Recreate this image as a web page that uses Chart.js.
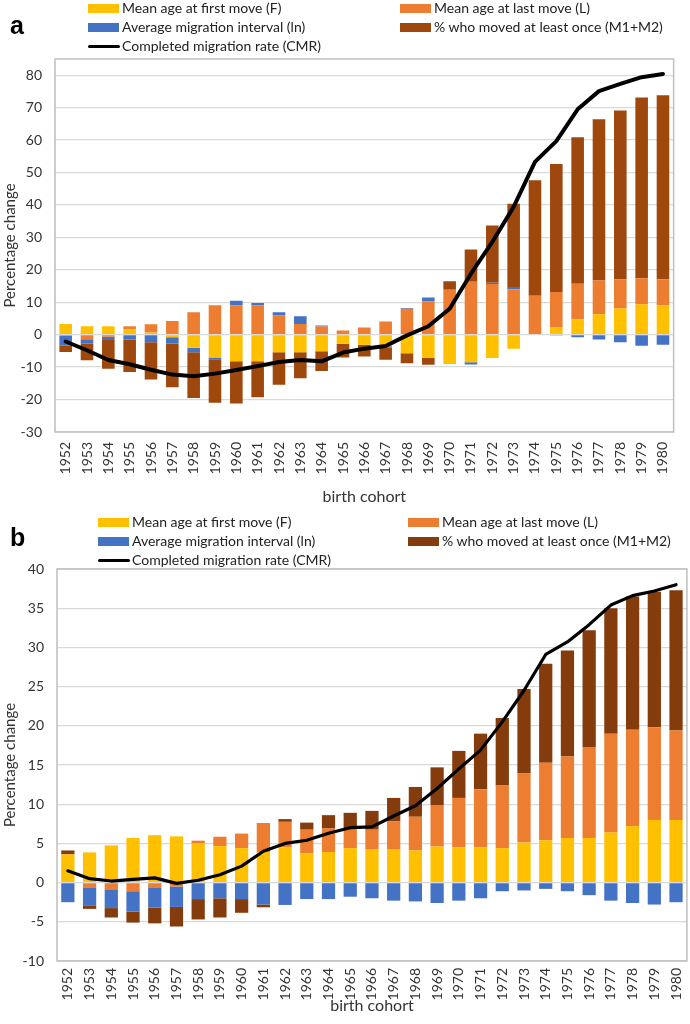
<!DOCTYPE html>
<html><head><meta charset="utf-8">
<script src="https://cdn.jsdelivr.net/npm/chart.js@4.4.1/dist/chart.umd.min.js"></script>
<style>
html,body{margin:0;padding:0;width:690px;height:1024px;overflow:hidden;background:#fff;font-family:Lato,sans-serif;}
.panel{position:absolute;left:0;}
.lgt{position:absolute;font-family:Lato,sans-serif;font-size:14px;color:#222;white-space:nowrap;line-height:16px;transform:translateY(-50%);}
.sw{position:absolute;}
.plab{position:absolute;font-family:"Liberation Sans",Arial,sans-serif;font-weight:bold;font-size:25px;color:#000;transform:translateY(-50%);line-height:28px;}
</style></head><body>
<div id="pa" class="panel" style="top:0;width:690px;height:510px"><canvas id="ca" width="690" height="510"></canvas></div>
<div id="pb" class="panel" style="top:512px;width:700px;height:512px"><canvas id="cb" width="700" height="512"></canvas></div>
<div id="legend"></div>
<script>
// ---- categories / tick labels ----
const years = ['1952','1953','1954','1955','1956','1957','1958','1959','1960','1961','1962','1963','1964','1965','1966','1967','1968','1969','1970','1971','1972','1973','1974','1975','1976','1977','1978','1979','1980'];
const seriesNames = ['Mean age at first move (F)','Mean age at last move (L)','Average migration interval (ln)','% who moved at least once (M1+M2)','Completed migration rate (CMR)'];
const yTicksA = [-30,-20,-10,0,10,20,30,40,50,60,70,80];
const yTicksB = [-10,-5,0,5,10,15,20,25,30,35,40];

// ---- panel a values ----
const fA   = [3.3, 2.6, 2.6, 1.6, 0.7, -0.8, -4.0, -7.0, -8.2, -8.2, -5.4, -5.4, -5.1, -2.8, -3.1, -3.6, -5.7, -7.2, -9.0, -8.5, -7.2, -4.3, 0.0, 2.4, 4.8, 6.3, 8.1, 9.4, 9.1];
const lA   = [-0.4, -1.4, -0.6, 1.0, 2.5, 4.2, 6.9, 9.1, 9.0, 9.0, 5.9, 3.3, 2.5, 1.3, 2.2, 4.1, 8.0, 10.3, 13.8, 16.3, 15.6, 14.0, 12.0, 10.8, 10.9, 10.4, 9.0, 8.0, 8.0];
const lnA  = [-3.0, -1.3, -1.0, -1.5, -2.3, -1.9, -1.4, -0.6, 1.5, 0.8, 1.0, 2.4, 0.3, 0.0, 0.0, -0.4, 0.2, 1.2, 0.2, -0.7, 0.4, 0.7, 0.0, -0.1, -0.8, -1.5, -2.3, -3.4, -3.1];
const mA   = [-1.9, -5.2, -8.9, -10.0, -11.5, -13.5, -14.1, -13.4, -13.0, -11.1, -10.0, -8.0, -6.1, -4.2, -3.6, -3.7, -3.1, -2.1, 2.5, 10.0, 17.7, 25.7, 35.6, 39.4, 45.2, 49.7, 52.0, 55.7, 56.7];
const cmrA = [-2.1, -4.8, -7.8, -9.1, -10.8, -12.3, -12.8, -12.0, -10.9, -9.7, -8.4, -7.8, -8.2, -5.5, -4.3, -3.5, -0.2, 2.6, 8.0, 18.8, 28.6, 39.4, 53.3, 59.7, 69.5, 75.1, 77.3, 79.4, 80.4];

// ---- panel b values ----
const fB   = [3.6, 3.85, 4.75, 5.7, 6.05, 5.9, 5.0, 4.65, 4.4, 3.9, 4.5, 3.75, 3.9, 4.4, 4.2, 4.2, 4.1, 4.6, 4.5, 4.5, 4.4, 5.1, 5.4, 5.7, 5.7, 6.4, 7.2, 8.0, 8.0];
const lB   = [0.0, -0.6, -0.85, -1.1, -0.6, -0.5, 0.35, 1.2, 1.85, 3.7, 3.25, 3.0, 3.0, 2.5, 2.55, 3.6, 4.3, 5.3, 6.3, 7.4, 8.0, 8.8, 9.9, 10.4, 11.6, 12.6, 12.3, 11.8, 11.4];
const lnB  = [-2.5, -2.3, -2.4, -2.6, -2.6, -2.6, -2.1, -2.0, -2.1, -2.8, -2.85, -2.1, -2.1, -1.8, -2.0, -2.3, -2.4, -2.6, -2.3, -2.0, -1.1, -1.0, -0.8, -1.1, -1.6, -2.3, -2.6, -2.8, -2.5];
const mB   = [0.5, -0.45, -1.2, -1.4, -2.0, -2.5, -2.6, -2.45, -1.75, -0.35, 0.35, 0.9, 1.7, 2.0, 2.4, 3.0, 3.8, 4.8, 6.0, 7.1, 8.6, 10.8, 12.6, 13.5, 14.9, 16.0, 17.0, 17.3, 17.9];
const cmrB = [1.5, 0.5, 0.2, 0.4, 0.6, -0.1, 0.3, 1.0, 2.1, 4.0, 5.0, 5.4, 6.3, 7.0, 7.1, 8.5, 9.8, 12.0, 14.5, 16.9, 20.5, 24.5, 29.1, 30.7, 32.9, 35.4, 36.6, 37.2, 38.0];

const COL_F = '#FFC000', COL_L = '#ED7D31', COL_LN = '#4472C4', COL_MA = '#9E480E', COL_MB = '#843C0C';

const frame = {id:'frame', beforeDatasetsDraw(c){
  const a=c.chartArea, x=c.ctx; x.save(); x.strokeStyle='#BFBFBF'; x.lineWidth=1.5;
  x.strokeRect(a.left,a.top,a.right-a.left,a.bottom-a.top); x.restore();
}};

function build(id, d, cfg){
  return new Chart(document.getElementById(id), {
    type:'bar',
    data:{labels:years, datasets:[
      {label:seriesNames[0], data:d.f,  backgroundColor:COL_F,  order:1},
      {label:seriesNames[1], data:d.l,  backgroundColor:COL_L,  order:1},
      {label:seriesNames[2], data:d.ln, backgroundColor:COL_LN, order:1},
      {label:seriesNames[3], data:d.m,  backgroundColor:cfg.mColor, order:1},
      {type:'line', label:seriesNames[4], data:d.cmr, borderColor:'#000', backgroundColor:'#000', borderWidth:cfg.lw,
        pointRadius:0, fill:false, stack:'cmr', order:0, tension:0, borderJoinStyle:'round', borderCapStyle:'round'}
    ]},
    options:{
      responsive:false, animation:false, devicePixelRatio:1,
      layout:{padding:{top:cfg.top, right:cfg.right, left:0, bottom:0}},
      plugins:{legend:{display:false}, tooltip:{enabled:false}},
      datasets:{bar:{barPercentage:cfg.bp, categoryPercentage:1, borderWidth:0}},
      scales:{
        x:{stacked:true, grid:{display:false, drawTicks:false}, border:{display:false},
           ticks:{minRotation:90, maxRotation:90, autoSkip:false, padding:cfg.xpad, font:{family:'Lato', size:14}, color:'#333'},
           title:{display:true, text:'birth cohort', font:{family:'Lato', size:16}, color:'#333', padding:{top:0, bottom:cfg.tpad}},
           afterFit:s=>{s.height=cfg.xh;}},
        y:{stacked:true, min:cfg.min, max:cfg.max,
           afterBuildTicks:s=>{s.ticks=cfg.ticks.map(v=>({value:v}));},
           grid:{color:'#D9D9D9', lineWidth:1.3, drawTicks:false}, border:{display:false},
           ticks:{padding:13, font:{family:'Lato', size:14}, color:'#333'},
           title:{display:true, text:'Percentage change', font:{family:'Lato', size:15}, color:'#333', padding:{top:1, bottom:0}},
           afterFit:s=>{s.width=cfg.yw;}}
      }
    },
    plugins:[frame]
  });
}

build('ca', {f:fA, l:lA, ln:lnA, m:mA, cmr:cmrA},
  {mColor:COL_MA, lw:4, top:59, right:13, bp:0.59, xpad:10, xh:78, tpad:4, yw:55, min:-30, max:85, ticks:yTicksA});
build('cb', {f:fB, l:lB, ln:lnB, m:mB, cmr:cmrB},
  {mColor:COL_MB, lw:3.2, top:57, right:9, bp:0.61, xpad:7, xh:63, tpad:9, yw:57, min:-10, max:40, ticks:yTicksB});

// ---- legends (HTML text) ----
const lg = document.getElementById('legend');
function addLegend(panelLabel, lx, ly, col1, col2, rows, mColor){
  const p = document.createElement('div'); p.className='plab'; p.textContent=panelLabel;
  p.style.left=lx+'px'; p.style.top=ly+'px'; lg.appendChild(p);
  const items = [[0,COL_F,col1,rows[0]],[1,COL_L,col2,rows[0]],[2,COL_LN,col1,rows[1]],[3,mColor,col2,rows[1]],[4,'line',col1,rows[2]]];
  items.forEach(([i,c,x,y])=>{
    const s=document.createElement('div'); s.className='sw';
    if(c==='line'){ s.style.cssText+=`left:${x}px;top:${y-1.5}px;width:32px;height:3px;background:#000;border-radius:2px;`; }
    else { s.style.cssText+=`left:${x}px;top:${y-4.5}px;width:31px;height:9px;background:${c};`; }
    lg.appendChild(s);
    const t=document.createElement('div'); t.className='lgt'; t.textContent=seriesNames[i];
    t.style.left=(x+34)+'px'; t.style.top=y+'px'; lg.appendChild(t);
  });
}
addLegend('a', 10, 25, 88, 400, [8, 27, 46], COL_MA);
addLegend('b', 10, 537, 98, 408, [522, 541, 560], COL_MB);
</script>
</body></html>
